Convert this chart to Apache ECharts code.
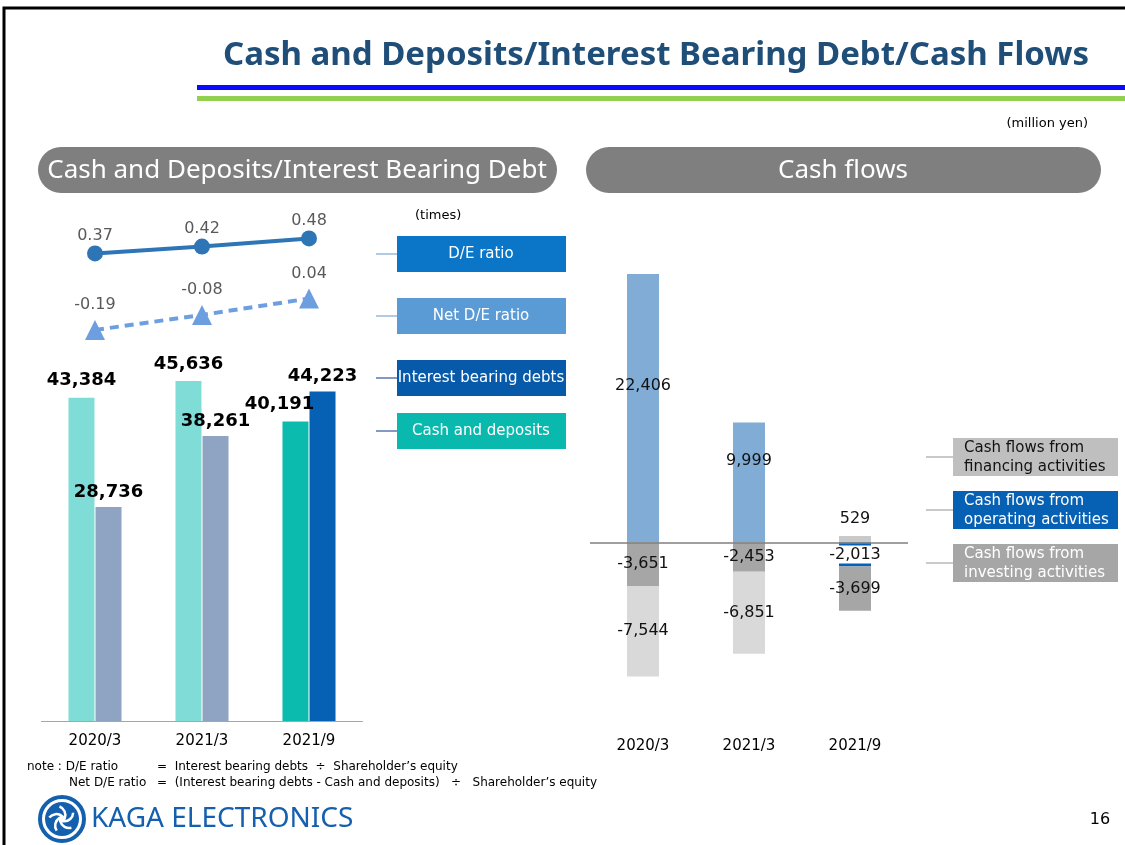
<!DOCTYPE html>
<html>
<head>
<meta charset="utf-8">
<script src="https://cdn.jsdelivr.net/npm/echarts@6/dist/echarts.min.js"></script>
<style>
  html, body { margin: 0; padding: 0; background: #fff; }
  #charts { width: 1125px; height: 845px; }
</style>
</head>
<body>
<div id="charts"></div>
<script>
// data (million yen / times)
var periods = ['2020/3', '2021/3', '2021/9'];
var cashDeposits = [43384, 45636, 40191];
var interestDebts = [28736, 38261, 44223];
var deRatio = [0.37, 0.42, 0.48];
var netDeRatio = [-0.19, -0.08, 0.04];
var cfOperating = [22406, 9999, -2013];
var cfInvesting = [-3651, -2453, -3699];
var cfFinancing = [-7544, -6851, 529];

var FONT = '"DejaVu Sans", Verdana, sans-serif';
var HEAD = '"Noto Sans", sans-serif';

function txt(x, y, text, font, fill, align) {
	return {
		type: 'text', x: x, y: y, silent: true,
		style: {
			text: text, font: font, fill: fill,
			align: align || 'left', verticalAlign: 'middle',
			textAlign: align || 'left', textVerticalAlign: 'middle'
		}
	};
}
function rect(x, y, w, h, fill, r) {
	return { type: 'rect', silent: true, shape: { x: x, y: y, width: w, height: h, r: r || 0 }, style: { fill: fill } };
}
function hline(x1, x2, y, color) {
	return { type: 'line', silent: true, shape: { x1: x1, y1: y, x2: x2, y2: y }, style: { stroke: color, lineWidth: 1.2 } };
}

var g = [];
// frame + title
g.push({ type: 'rect', silent: true, shape: { x: 4, y: 8, width: 1130, height: 850 }, style: { fill: 'none', stroke: '#000', lineWidth: 3 } });
g.push(txt(656, 56, 'Cash and Deposits/Interest Bearing Debt/Cash Flows', 'bold 33px ' + HEAD, '#1f4e79', 'center'));
g.push(rect(197, 85, 930, 5, '#0a0aff'));
g.push(rect(197, 96, 930, 5, '#92d050'));
g.push(txt(1088, 124, '(million yen)', '13px ' + FONT, '#000', 'right'));

// section pills
g.push(rect(38, 147, 519, 46, '#7f7f7f', 23));
g.push(txt(297, 171, 'Cash and Deposits/Interest Bearing Debt', '26px ' + HEAD, '#fff', 'center'));
g.push(rect(586, 147, 515, 46, '#7f7f7f', 23));
g.push(txt(843, 171, 'Cash flows', '26px ' + HEAD, '#fff', 'center'));

// left legend boxes
g.push(txt(415, 216, '(times)', '13px ' + FONT, '#000'));
var leftKeys = [
	['D/E ratio', '#0b76c8', '#7fa8d4', 236],
	['Net D/E ratio', '#5b9bd5', '#7fa8d4', 298],
	['Interest bearing debts', '#065aa9', '#2f5597', 360],
	['Cash and deposits', '#0ab9ae', '#2f5597', 413]
];
leftKeys.forEach(function (k) {
	g.push(hline(376, 397, k[3] + 18, k[2]));
	g.push(rect(397, k[3], 169, 36, k[1]));
	g.push(txt(481, k[3] + 18, k[0], '15px ' + FONT, '#fff', 'center'));
});

// right legend boxes
var rightKeys = [
	['Cash flows from', 'financing activities', '#bfbfbf', '#111', 438],
	['Cash flows from', 'operating activities', '#0660b3', '#fff', 491],
	['Cash flows from', 'investing activities', '#a6a6a6', '#fff', 544]
];
rightKeys.forEach(function (k) {
	g.push(hline(926, 953, k[4] + 19, '#a6a6a6'));
	g.push(rect(953, k[4], 165, 38, k[2]));
	g.push(txt(964, k[4] + 10, k[0], '15px ' + FONT, k[3]));
	g.push(txt(964, k[4] + 29, k[1], '15px ' + FONT, k[3]));
});

// notes
g.push(txt(27, 767, 'note : D/E ratio', '12px ' + FONT, '#000'));
g.push(txt(157, 767, '=  Interest bearing debts  \u00f7  Shareholder\u2019s equity', '12px ' + FONT, '#000'));
g.push(txt(69, 783, 'Net D/E ratio', '12px ' + FONT, '#000'));
g.push(txt(157, 783, '=  (Interest bearing debts - Cash and deposits)   \u00f7   Shareholder\u2019s equity', '12px ' + FONT, '#000'));

// logo
g.push({ type: 'circle', silent: true, shape: { cx: 62, cy: 819, r: 22 }, style: { fill: '#fff', stroke: '#1560ae', lineWidth: 4 } });
g.push({ type: 'circle', silent: true, shape: { cx: 62, cy: 819, r: 17 }, style: { fill: '#1560ae' } });
for (var i = 0; i < 5; i++) {
	var a = i * Math.PI * 2 / 5;
	g.push({ type: 'arc', silent: true,
		shape: { cx: 62 + Math.cos(a) * 7, cy: 819 + Math.sin(a) * 7, r: 9, startAngle: a + 1.3, endAngle: a + 3.1 },
		style: { stroke: '#fff', lineWidth: 2.5, fill: 'none' } });
}
g.push({ type: 'circle', silent: true, shape: { cx: 62, cy: 819, r: 3 }, style: { fill: '#fff' } });
g.push(txt(91, 819, 'KAGA ELECTRONICS', '28px ' + HEAD, '#1560ae'));
g.push(txt(1100, 820, '16', '16px ' + FONT, '#000', 'center'));

var chart = echarts.init(document.getElementById('charts'));
var last = periods.length - 1;

var option = {
	animation: false,
	textStyle: { fontFamily: FONT },
	graphic: { elements: g },
	grid: [
		{ left: 41.5, top: 274, width: 321, height: 447 },
		{ left: 41.5, top: 222, width: 321, height: 123 },
		{ left: 590, top: 183, width: 318, height: 539 }
	],
	xAxis: [
		{ gridIndex: 0, type: 'category', data: periods,
			axisLine: { lineStyle: { color: '#a6a6a6', width: 1 } }, axisTick: { show: false },
			axisLabel: { color: '#000', fontSize: 15, margin: 13 } },
		{ gridIndex: 1, type: 'category', data: periods, show: false },
		{ gridIndex: 2, type: 'category', data: periods,
			axisLine: { show: false }, axisTick: { show: false },
			axisLabel: { color: '#000', fontSize: 15, margin: 17 } }
	],
	yAxis: [
		{ gridIndex: 0, type: 'value', min: 0, max: 60000, show: false },
		{ gridIndex: 1, type: 'value', min: -0.3, max: 0.6, show: false },
		{ gridIndex: 2, type: 'value', min: -15000, max: 30000, show: false }
	],
	series: [
		{
			name: 'Cash and deposits', type: 'bar', xAxisIndex: 0, yAxisIndex: 0,
			barWidth: 26, barGap: '4%', data: cashDeposits,
			itemStyle: { color: function (p) { return p.dataIndex === last ? '#0bbcae' : '#80dcd6'; } },
			label: { show: true, position: 'top', distance: 8, color: '#000', fontSize: 18, fontWeight: 'bold',
				formatter: function (p) { return p.value.toLocaleString('en-US'); } },
			// latest label sits a little to the left in the slide
			labelLayout: function (p) {
				if (p.dataIndex === last) return { dx: -16 };
			}
		},
		{
			name: 'Interest bearing debts', type: 'bar', xAxisIndex: 0, yAxisIndex: 0,
			barWidth: 26, data: interestDebts,
			itemStyle: { color: function (p) { return p.dataIndex === last ? '#0660b3' : '#8fa3c2'; } },
			label: { show: true, position: 'top', distance: 6, color: '#000', fontSize: 18, fontWeight: 'bold',
				formatter: function (p) { return p.value.toLocaleString('en-US'); } }
		},
		{
			name: 'D/E ratio', type: 'line', xAxisIndex: 1, yAxisIndex: 1, data: deRatio,
			symbol: 'circle', symbolSize: 16,
			lineStyle: { color: '#2e75b6', width: 4 }, itemStyle: { color: '#2e75b6' },
			label: { show: true, position: 'top', distance: 2, color: '#595959', fontSize: 16,
				formatter: function (p) { return p.value.toFixed(2); } }
		},
		{
			name: 'Net D/E ratio', type: 'line', xAxisIndex: 1, yAxisIndex: 1, data: netDeRatio,
			symbol: 'triangle', symbolSize: 20,
			lineStyle: { color: '#6d9fe0', width: 4, type: [9, 6] }, itemStyle: { color: '#6d9fe0' },
			label: { show: true, position: 'top', distance: 7, color: '#595959', fontSize: 16,
				formatter: function (p) { return p.value.toFixed(2); } }
		},
		// cash flows
		{
			name: 'Cash flows from operating activities', type: 'bar', xAxisIndex: 2, yAxisIndex: 2,
			stack: 'cf', barWidth: 32, data: cfOperating,
			itemStyle: { color: function (p) { return p.value < 0 ? '#0660b3' : '#80acd6'; } },
			label: { show: true, position: 'inside', color: '#111', fontSize: 16,
				formatter: function (p) {
					var s = p.value.toLocaleString('en-US');
					return p.value < 0 ? '{w|' + s + '}' : s;
				},
				rich: { w: { backgroundColor: '#fff', color: '#111', fontSize: 16, padding: [1, 0] } } },
			labelLayout: function (p) {
				if (cfOperating[p.dataIndex] > 0) return { dy: -22 };
			},
			markLine: { silent: true, symbol: 'none', label: { show: false },
				lineStyle: { color: '#7f7f7f', width: 1.5, type: 'solid' }, data: [{ yAxis: 0 }] }
		},
		{
			name: 'Cash flows from investing activities', type: 'bar', xAxisIndex: 2, yAxisIndex: 2,
			stack: 'cf', barWidth: 32, data: cfInvesting,
			itemStyle: { color: '#a6a6a6' },
			label: { show: true, position: 'inside', color: '#111', fontSize: 16,
				formatter: function (p) { return p.value.toLocaleString('en-US'); } }
		},
		{
			name: 'Cash flows from financing activities', type: 'bar', xAxisIndex: 2, yAxisIndex: 2,
			stack: 'cf', barWidth: 32, data: cfFinancing,
			itemStyle: { color: function (p) { return p.value > 0 ? '#c9c9c9' : '#d9d9d9'; } },
			label: { show: true, position: 'inside', color: '#111', fontSize: 16,
				formatter: function (p) { return p.value.toLocaleString('en-US'); } },
			// tiny bar: lift its label above the bar
			labelLayout: function (p) {
				if (p.rect.height < 15) return { dy: -(p.rect.height / 2 + 17) };
			}
		}
	]
};
chart.setOption(option);
</script>
</body>
</html>
